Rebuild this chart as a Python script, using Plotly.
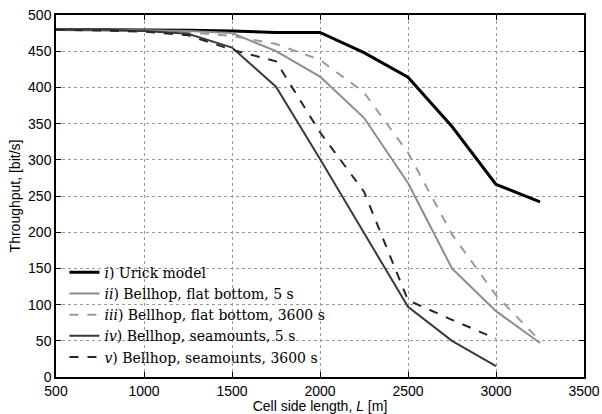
import plotly.graph_objects as go

L = [500, 750, 1000, 1250, 1500, 1750, 2000, 2250, 2500, 2750, 3000, 3250]
urick = [480, 480, 480, 479, 478, 476, 476, 448, 414, 346, 266, 242]
flat_5s = [480, 480, 479, 478, 475, 450, 415, 358, 268, 150, 91, 47]
flat_3600s = [480, 480, 478, 476, 471, 460, 438, 393, 310, 197, 113, 50]
L_sea = L[:11]
sea_5s = [480, 480, 478, 474, 455, 401, 301, 200, 97, 50, 15]
sea_3600s = [480, 479, 477, 472, 452, 436, 338, 256, 106, 79, 53]

names = ["<i>i</i>) Urick model",
         "<i>ii</i>) Bellhop, flat bottom, 5 s",
         "<i>iii</i>) Bellhop, flat bottom, 3600 s",
         "<i>iv</i>) Bellhop, seamounts, 5 s",
         "<i>v</i>) Bellhop, seamounts, 3600 s"]

fig = go.Figure()
fig.add_trace(go.Scatter(x=L, y=urick, mode="lines", name=names[0],
                         line=dict(color="black", width=3)))
fig.add_trace(go.Scatter(x=L, y=flat_5s, mode="lines", name=names[1],
                         line=dict(color="#8c8c8c", width=2)))
fig.add_trace(go.Scatter(x=L, y=flat_3600s, mode="lines", name=names[2],
                         line=dict(color="#9a9a9a", width=2, dash="dash")))
fig.add_trace(go.Scatter(x=L_sea, y=sea_5s, mode="lines", name=names[3],
                         line=dict(color="#3a3a3a", width=2)))
fig.add_trace(go.Scatter(x=L_sea, y=sea_3600s, mode="lines", name=names[4],
                         line=dict(color="#262626", width=2, dash="dash")))

tickfont = dict(family="Liberation Sans, Arial", size=14, color="black")
axis_common = dict(showline=True, linecolor="black", linewidth=1.5, mirror="ticks",
                   ticks="inside", ticklen=5, tickcolor="black",
                   showgrid=True, gridcolor="#999999", griddash="dot", gridwidth=1,
                   zeroline=False, automargin=False, tickfont=tickfont)

fig.update_layout(
    width=602, height=414,
    margin=dict(l=56, r=18, t=15, b=37, autoexpand=False),
    plot_bgcolor="white", paper_bgcolor="white",
    xaxis=dict(range=[500, 3500], dtick=500, tick0=500,
               title=dict(text="Cell side length, <i>L</i> [m]", standoff=0,
                          font=dict(family="Liberation Sans, Arial", size=14, color="black")),
               **axis_common),
    yaxis=dict(range=[0, 500], dtick=50,
               title=dict(text="Throughput, [bit/s]", standoff=4,
                          font=dict(family="Liberation Sans, Arial", size=14, color="black")),
               **axis_common),
    legend=dict(x=0.016, y=0.012, xanchor="left", yanchor="bottom",
                bgcolor="rgba(255,255,255,0)", borderwidth=0,
                font=dict(family="DejaVu Serif", size=14, color="black"),
                tracegroupgap=0, itemwidth=30),
    showlegend=True,
)

fig.write_html("out.html", post_script="document.body.style.margin='0';",
               config={"displayModeBar": False})
